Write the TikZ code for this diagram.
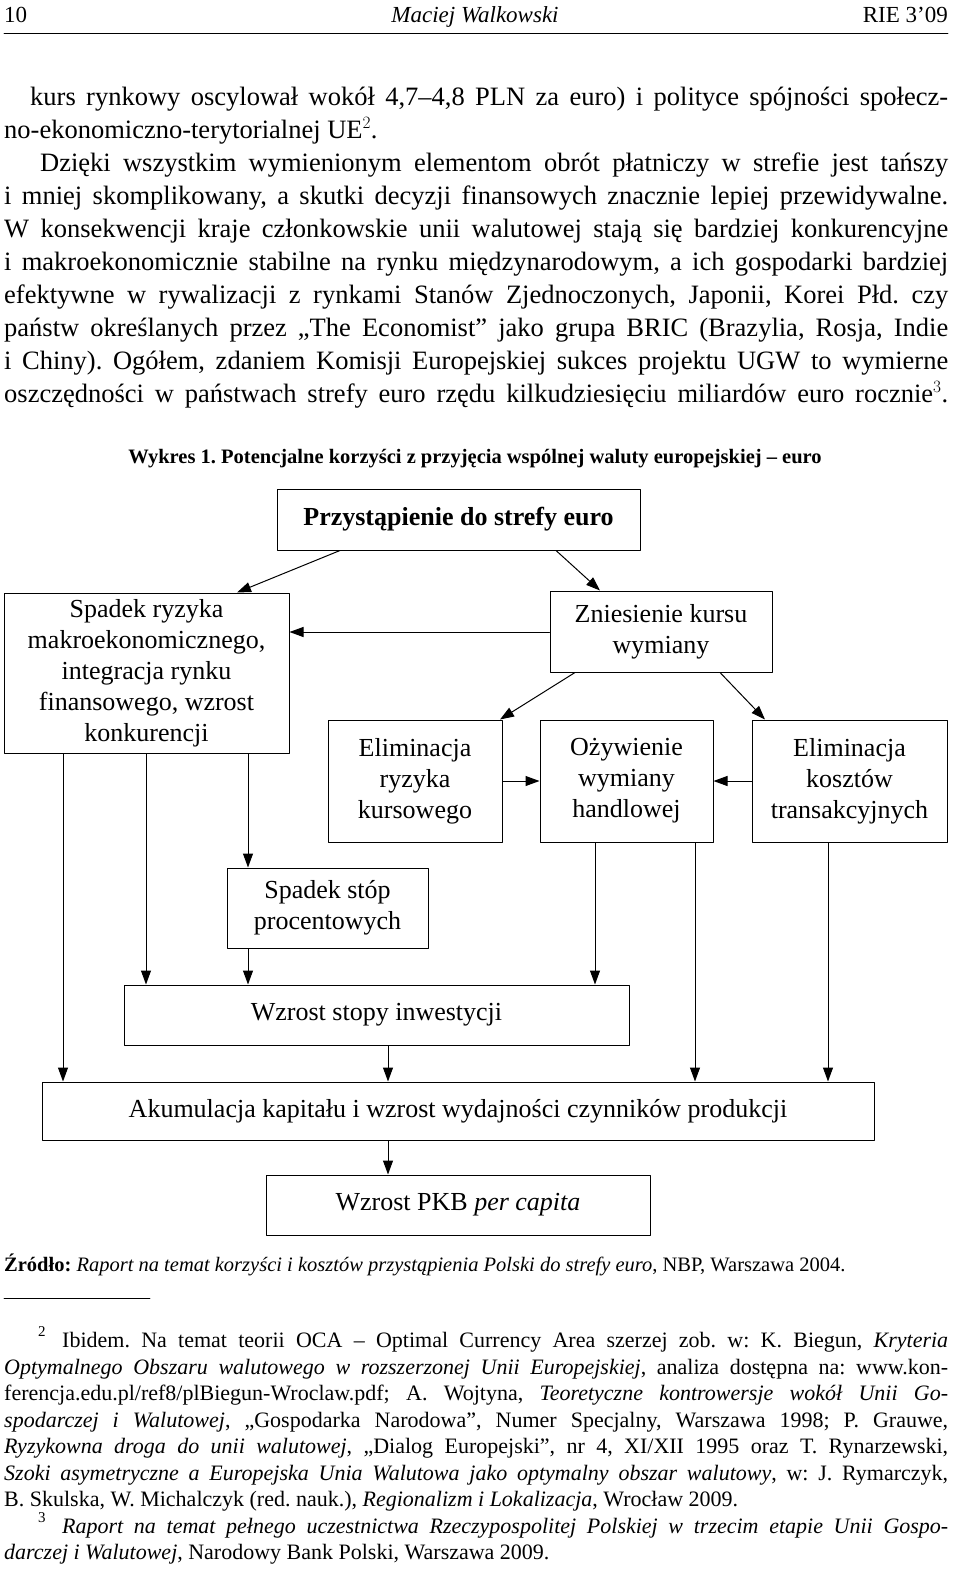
\documentclass[tikz,border=0pt]{standalone}
\usepackage{fontspec}
\setmainfont{Liberation Serif}
\usetikzlibrary{arrows.meta}
\frenchspacing
% one justified line of the page
\newcommand\jline[4]{\node[anchor=base west,inner sep=0] at (#1,#2) {\hbox to #3pt{#4}};}
\newcommand\lline[3]{\node[anchor=base west,inner sep=0] at (#1,#2) {#3};}
\tikzset{
  box/.style={draw,line width=1pt,inner sep=0,align=center,font=\fontsize{26}{31}\selectfont},
  link/.style={line width=1pt,-{Triangle[length=14pt,width=10pt]}}
}
\begin{document}
\begin{tikzpicture}[line cap=round,line join=round,x=1pt,y=-1pt]
\useasboundingbox (0,0) rectangle (960,1580);
% header
\begin{scope}[font=\fontsize{23}{26}\selectfont]
\lline{4}{22}{10}
\node[anchor=base,inner sep=0] at (475,22) {\itshape Maciej Walkowski};
\node[anchor=base east,inner sep=0] at (948,22) {RIE 3’09};
\end{scope}
\draw[line width=0.6pt] (4,33)--(948,33);
% body text
\begin{scope}[font=\fontsize{26.5}{30}\selectfont]
\jline{30}{105}{918}{kurs rynkowy oscylował wokół 4,7–4,8 PLN za euro) i polityce spójności społecz-}
\lline{4}{138}{no-ekonomiczno-terytorialnej UE$^2$.}
\jline{40}{171}{908}{Dzięki wszystkim wymienionym elementom obrót płatniczy w strefie jest tańszy}
\jline{4}{204}{944}{i mniej skomplikowany, a skutki decyzji finansowych znacznie lepiej przewidywalne.}
\jline{4}{237}{944}{W konsekwencji kraje członkowskie unii walutowej stają się bardziej konkurencyjne}
\jline{4}{270}{944}{i makroekonomicznie stabilne na rynku międzynarodowym, a ich gospodarki bardziej}
\jline{4}{303}{944}{efektywne w rywalizacji z rynkami Stanów Zjednoczonych, Japonii, Korei Płd. czy}
\jline{4}{336}{944}{państw określanych przez „The Economist” jako grupa BRIC (Brazylia, Rosja, Indie}
\jline{4}{369}{944}{i Chiny). Ogółem, zdaniem Komisji Europejskiej sukces projektu UGW to wymierne}
\jline{4}{402}{944}{oszczędności w państwach strefy euro rzędu kilkudziesięciu miliardów euro rocznie$^3$.}
\end{scope}
\node[anchor=base,inner sep=0,font=\fontsize{20.5}{23}\selectfont\bfseries] at (475,463)
  {Wykres 1. Potencjalne korzyści z przyjęcia wspólnej waluty europejskiej – euro};
% diagram
\node[box,minimum width=363,minimum height=61,font=\fontsize{26}{31}\selectfont\bfseries] (entry) at (458.5,519.5) {Przystąpienie do strefy euro};
\node[box,minimum width=285,minimum height=160] (risk) at (146.5,673) {Spadek ryzyka\\makroekonomicznego,\\integracja rynku\\finansowego, wzrost\\konkurencji};
\node[box,minimum width=222,minimum height=81] (rate) at (661,631.5) {Zniesienie kursu\\wymiany};
\node[box,minimum width=174,minimum height=122] (fx) at (415,781) {Eliminacja\\ryzyka\\kursowego};
\node[box,minimum width=173,minimum height=122] (trade) at (626.5,781) {Ożywienie\\wymiany\\handlowej};
\node[box,minimum width=195,minimum height=122] (cost) at (849.5,781) {Eliminacja\\kosztów\\transakcyjnych};
\node[box,minimum width=201,minimum height=80] (interest) at (327.5,908) {Spadek stóp\\procentowych};
\node[box,minimum width=505,minimum height=60] (invest) at (376.5,1015) {Wzrost stopy inwestycji};
\node[box,minimum width=832,minimum height=58] (capital) at (458,1111) {Akumulacja kapitału i wzrost wydajności czynników produkcji};
\node[box,minimum width=384,minimum height=60] (gdp) at (458,1205) {Wzrost PKB \textit{per capita}};
\draw[link] (entry.south -| 340,0) -- (risk.north -| 237,0);
\draw[link] (entry.south -| 556,0) -- (rate.north -| 600,0);
\draw[link] (rate.west |- 0,632) -- (risk.east |- 0,632);
\draw[link] (rate.south -| 575,0) -- (fx.north -| 500,0);
\draw[link] (rate.south -| 720,0) -- (cost.north -| 765,0);
\draw[link] (fx.east) -- (trade.west);
\draw[link] (cost.west) -- (trade.east);
\draw[link] (risk.south -| 63,0) -- (capital.north -| 63,0);
\draw[link] (risk.south -| 146,0) -- (invest.north -| 146,0);
\draw[link] (risk.south -| 248,0) -- (interest.north -| 248,0);
\draw[link] (interest.south -| 248,0) -- (invest.north -| 248,0);
\draw[link] (trade.south -| 595,0) -- (invest.north -| 595,0);
\draw[link] (trade.south -| 695,0) -- (capital.north -| 695,0);
\draw[link] (cost.south -| 828,0) -- (capital.north -| 828,0);
\draw[link] (invest.south -| 388,0) -- (capital.north -| 388,0);
\draw[link] (capital.south -| 388,0) -- (gdp.north -| 388,0);
% source
\lline{4}{1271}{\fontsize{20.5}{23}\selectfont\textbf{Źródło:} \textit{Raport na temat korzyści i kosztów przystąpienia Polski do strefy euro}, NBP, Warszawa 2004.}
\draw[line width=0.6pt] (4,1298)--(150,1298);
% footnotes
\begin{scope}[font=\fontsize{22}{24}\selectfont]
\lline{38}{1336}{\fontsize{15}{16}\selectfont 2}
\jline{62}{1347}{886}{Ibidem. Na temat teorii OCA – Optimal Currency Area szerzej zob. w: K. Biegun, \textit{Kryteria}}
\jline{4}{1374}{944}{\textit{Optymalnego Obszaru walutowego w rozszerzonej Unii Europejskiej}, analiza dostępna na: www.kon-}
\jline{4}{1400}{944}{ferencja.edu.pl/ref8/plBiegun-Wroclaw.pdf; A. Wojtyna, \textit{Teoretyczne kontrowersje wokół Unii Go-}}
\jline{4}{1427}{944}{\textit{spodarczej i Walutowej}, „Gospodarka Narodowa”, Numer Specjalny, Warszawa 1998; P. Grauwe,}
\jline{4}{1453}{944}{\textit{Ryzykowna droga do unii walutowej}, „Dialog Europejski”, nr 4, XI/XII 1995 oraz T. Rynarzewski,}
\jline{4}{1480}{944}{\textit{Szoki asymetryczne a Europejska Unia Walutowa jako optymalny obszar walutowy}, w: J. Rymarczyk,}
\lline{4}{1506}{B. Skulska, W. Michalczyk (red. nauk.), \textit{Regionalizm i Lokalizacja}, Wrocław 2009.}
\lline{38}{1522}{\fontsize{15}{16}\selectfont 3}
\jline{62}{1533}{886}{\textit{Raport na temat pełnego uczestnictwa Rzeczypospolitej Polskiej w trzecim etapie Unii Gospo-}}
\lline{4}{1559}{\textit{darczej i Walutowej}, Narodowy Bank Polski, Warszawa 2009.}
\end{scope}
\end{tikzpicture}
\end{document}
